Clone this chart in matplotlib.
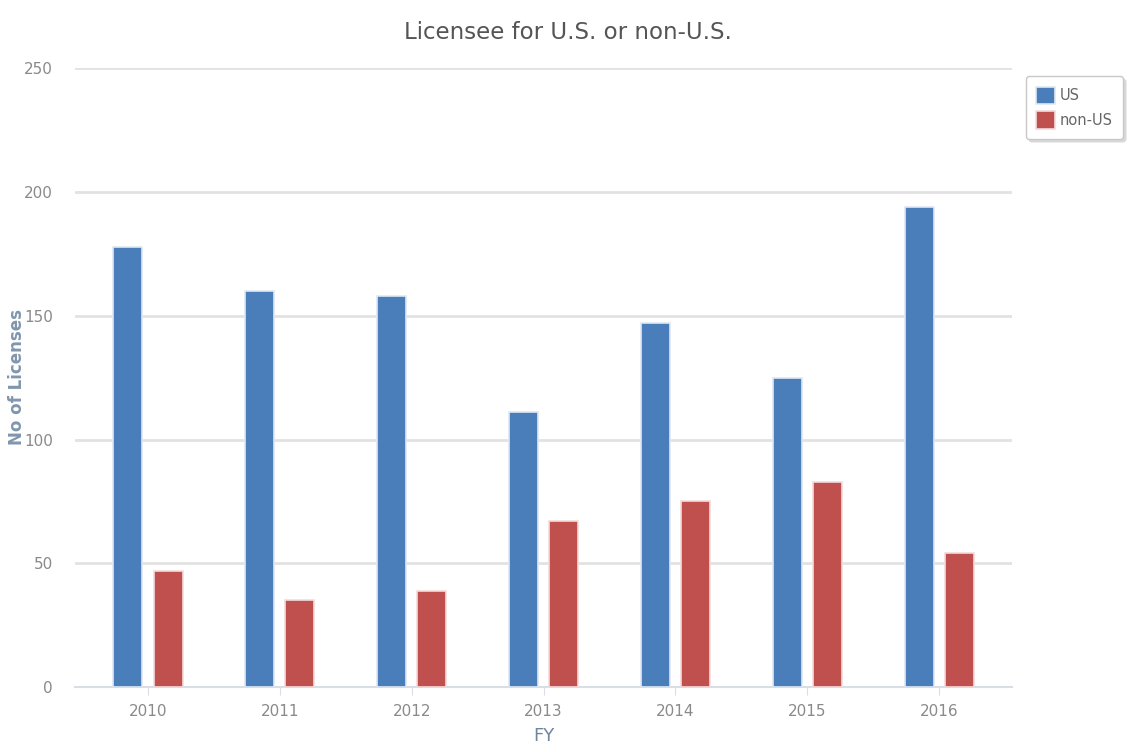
import matplotlib.pyplot as plt
import numpy as np

# data
years = ['2010', '2011', '2012', '2013', '2014', '2015', '2016']
us = [178, 160, 158, 111, 147, 125, 194]
non_us = [47, 35, 39, 67, 75, 83, 54]

plt.rcParams['font.family'] = ['DejaVu Sans']

fig = plt.figure(figsize=(11.36, 7.52), dpi=100)
ax = fig.add_axes([0.066, 0.0864, 0.825, 0.8226])

x = np.arange(len(years))
w = 0.22
off = 0.152
ax.bar(x - off, us, w, color='#4a7ebb', edgecolor='#dfe8f3', linewidth=1.2, label='US', zorder=3)
ax.bar(x + off, non_us, w, color='#c0504d', edgecolor='#f3dcdc', linewidth=1.2, label='non-US', zorder=3)

ax.set_xlim(-0.554, 6.554)
ax.set_ylim(0, 250)
ax.set_yticks([0, 50, 100, 150, 200, 250])
ax.set_xticks(x)
ax.set_xticklabels(years)
ax.yaxis.grid(True, color='#e2e2e2', linewidth=2)
ax.set_axisbelow(True)
for s in ['top', 'right', 'left']:
    ax.spines[s].set_visible(False)
ax.spines['bottom'].set_color('#d8dde6')
ax.spines['bottom'].set_linewidth(1.5)
ax.tick_params(axis='y', length=0, pad=16, labelsize=11, labelcolor='#8a8a8a')
ax.tick_params(axis='x', length=6, color='#d8dde6', pad=6, labelsize=11, labelcolor='#8a8a8a')

ax.set_xlabel('FY', fontsize=13, color='#6f86a0', labelpad=6)
fig.text(0.015, 0.499, 'No of Licenses', rotation=90, ha='center', va='center',
         fontsize=12, color='#7f96ad', fontweight='bold')
fig.text(0.5, 0.957, 'Licensee for U.S. or non-U.S.', ha='center', va='center',
         fontsize=16.5, color='#555555')

# legend box, top right with soft shadow
leg = fig.legend(loc='upper left', bbox_to_anchor=(0.897, 0.908),
                 frameon=True, fancybox=True, shadow={'color': '#d8d8d8', 'alpha': 1},
                 fontsize=10.5, handlelength=1.3, handleheight=1.5,
                 handletextpad=0.3, labelspacing=0.45, borderpad=0.7)
leg.get_frame().set_edgecolor('#c8c8c8')
leg.get_frame().set_linewidth(1)
for t in leg.get_texts():
    t.set_color('#666666')

fig.savefig('out.png', dpi=100)
